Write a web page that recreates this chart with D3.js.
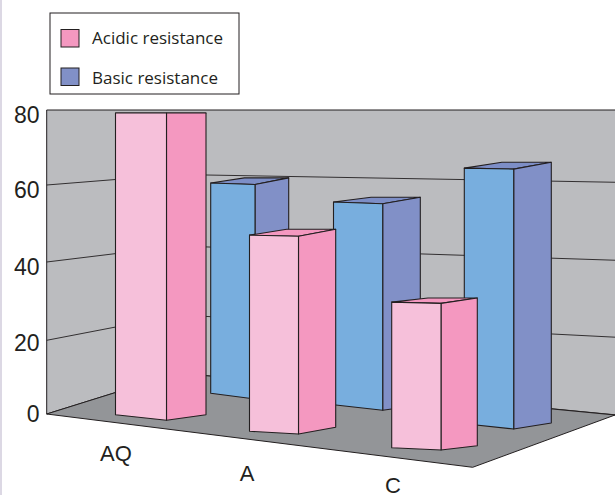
<!DOCTYPE html>
<html>
<head>
<meta charset="utf-8">
<style>
html,body{margin:0;padding:0;background:#fff;overflow:hidden}
svg{display:block}
</style>
<script src="https://cdn.jsdelivr.net/npm/d3@7"></script>
</head>
<body>
<svg id="chart" width="615" height="495"></svg>
<script>
// ---- data ----
const categories = ["AQ", "A", "C"];
const acidicResistance = [80, 49.3, 34.8];
const basicResistance = [60, 55.6, 65.8];
const tickValues = [0, 20, 40, 60, 80];
const seriesNames = ["Acidic resistance", "Basic resistance"];

// ---- layout scales (scene geometry of the pseudo-3D drawing) ----
const INK = "#231f20";
const wallLeftY = d3.scaleLinear().domain(tickValues).range([414, 340.3, 262, 185, 110]);
const wallCornerY = d3.scaleLinear().domain(tickValues).range([373, 315, 246, 174.5, 110]);
const wallRightY = d3.scaleLinear().domain(tickValues).range([415, 337.3, 260.3, 182.3, 110]);
const tickLabelY = d3.scaleLinear().domain(tickValues).range([421.7, 350, 274, 197, 122.5]);
const X = {wallLeft: 46.7, corner: 178, wallRight: 615, floorFront: 472.7};
const floorFrontY = 467.3;

const frame = {
  acidic: {
    left: d3.scaleOrdinal().domain(categories).range([115.5, 249.5, 391.7]),
    edge: d3.scaleOrdinal().domain(categories).range([166.5, 298.5, 441]),
    right: d3.scaleOrdinal().domain(categories).range([206, 335.7, 477.3]),
    gLeft: d3.scaleOrdinal().domain(categories).range([414.7, 431.3, 447.7]),
    gEdge: d3.scaleOrdinal().domain(categories).range([420.3, 434, 450]),
    gRight: d3.scaleOrdinal().domain(categories).range([414.7, 427.3, 445.7]),
    front: "#f6c0da", side: "#f498c0", top: "#f498c0"
  },
  basic: {
    left: d3.scaleOrdinal().domain(categories).range([210.7, 333.5, 464.3]),
    edge: d3.scaleOrdinal().domain(categories).range([255, 382.7, 513.7]),
    right: d3.scaleOrdinal().domain(categories).range([288.7, 420.3, 551.3]),
    gLeft: d3.scaleOrdinal().domain(categories).range([393.3, 404.7, 423.7]),
    gEdge: d3.scaleOrdinal().domain(categories).range([399, 410.3, 429]),
    gRight: d3.scaleOrdinal().domain(categories).range([393.5, 405, 423]),
    front: "#78aede", side: "#8190c7", top: "#7d8ec6"
  }
};
// a value v rises from the ground point towards the level of value 80
const frontLevel = 113, sideLevel = 106;
const rise = (ground, level, v) => d3.scaleLinear().domain([0, 80]).range([ground, level])(v);

const labelX = d3.scaleOrdinal().domain(categories).range([116, 247, 393]);
const labelY = d3.scaleOrdinal().domain(categories).range([461, 481, 493]);

const svg = d3.select("#chart");
const line = d3.line();
const poly = (g, pts, fill, sw) => g.append("path")
  .attr("d", line(pts) + "Z").attr("fill", fill)
  .attr("stroke", INK).attr("stroke-width", sw === undefined ? 1.1 : sw)
  .attr("stroke-linejoin", "round");

// page edge strip
svg.append("rect").attr("x", 0).attr("y", 0).attr("width", 2).attr("height", 495).attr("fill", "#dcd8e4");

// walls
const scene = svg.append("g");
scene.append("path")
  .attr("d", line([[X.wallLeft, wallLeftY(80)], [X.wallRight + 2, wallRightY(80)], [X.wallRight + 2, wallRightY(0)],
                   [X.corner, wallCornerY(0)], [X.wallLeft, wallLeftY(0)]]) + "Z")
  .attr("fill", "#bbbcbf").attr("stroke", INK).attr("stroke-width", 1);

// gridlines
tickValues.filter(v => v > 0 && v < 80).forEach(v => {
  scene.append("path")
    .attr("d", line([[X.wallLeft, wallLeftY(v)], [X.corner, wallCornerY(v)], [X.wallRight + 2, wallRightY(v)]]))
    .attr("fill", "none").attr("stroke", INK).attr("stroke-width", 0.9);
});

// floor
poly(scene, [[X.wallLeft, wallLeftY(0)], [X.floorFront, floorFrontY], [X.wallRight, wallRightY(0)], [X.corner, wallCornerY(0)]], "#939598", 1);

// bars, back to front within each category
function drawBar(cat, value, f) {
  const g = scene.append("g");
  const l = f.left(cat), e = f.edge(cat), r = f.right(cat);
  const gl = f.gLeft(cat), ge = f.gEdge(cat), gr = f.gRight(cat);
  const tl = rise(gl, frontLevel, value), te = rise(ge, frontLevel, value);
  const tr = Math.max(frontLevel, rise(gr, sideLevel, value));
  const backX = l + (r - e);
  poly(g, [[l, tl], [backX, tr], [r, tr], [e, te]], f.top);
  poly(g, [[e, te], [r, tr], [r, gr], [e, ge]], f.side);
  poly(g, [[l, tl], [e, te], [e, ge], [l, gl]], f.front);
}
categories.forEach((c, i) => {
  drawBar(c, basicResistance[i], frame.basic);
  drawBar(c, acidicResistance[i], frame.acidic);
});

// value axis
const axis = d3.axisLeft(tickLabelY).tickValues(tickValues).tickSize(0).tickPadding(0).tickFormat(d3.format("d"));
const axisG = svg.append("g").attr("transform", "translate(39.5,0)").call(axis);
axisG.select(".domain").remove();
axisG.selectAll("text")
  .attr("dy", 0).attr("x", 0)
  .attr("font-family", "'Liberation Sans', Arial, sans-serif")
  .attr("font-size", 23).attr("fill", INK).attr("text-anchor", "end");

// category labels
svg.append("g").selectAll("text").data(categories).join("text")
  .attr("x", d => labelX(d)).attr("y", d => labelY(d))
  .attr("text-anchor", "middle")
  .attr("font-family", "'Liberation Sans', Arial, sans-serif")
  .attr("font-size", 22).attr("fill", INK)
  .text(d => d);

// legend
const legend = svg.append("g");
legend.append("rect").attr("x", 50).attr("y", 13).attr("width", 189).attr("height", 81)
  .attr("fill", "#fff").attr("stroke", INK).attr("stroke-width", 1);
const swatchY = d3.scaleOrdinal().domain(seriesNames).range([29.5, 68]);
const legendTextY = d3.scaleOrdinal().domain(seriesNames).range([44, 84]);
const swatchColor = d3.scaleOrdinal().domain(seriesNames).range([frame.acidic.side, frame.basic.side]);
legend.selectAll("rect.swatch").data(seriesNames).join("rect")
  .attr("class", "swatch")
  .attr("x", 61).attr("y", d => swatchY(d)).attr("width", 18).attr("height", 17.5)
  .attr("fill", d => swatchColor(d)).attr("stroke", INK).attr("stroke-width", 1);
legend.selectAll("text").data(seriesNames).join("text")
  .attr("x", 92).attr("y", d => legendTextY(d))
  .attr("font-family", "'Open Sans', 'Noto Sans', sans-serif")
  .attr("font-size", 17).attr("fill", INK)
  .text(d => d);
</script>
</body>
</html>
